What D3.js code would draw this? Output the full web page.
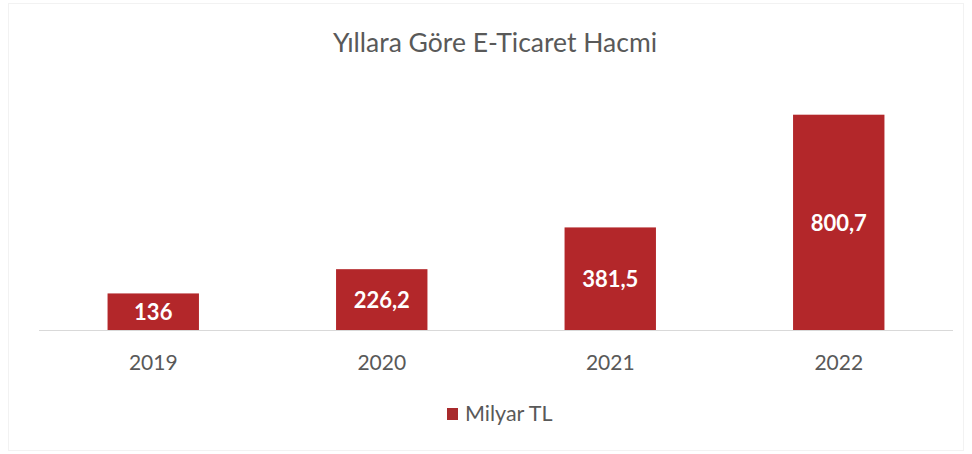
<!DOCTYPE html>
<html><head><meta charset="utf-8">
<script src="https://cdn.jsdelivr.net/npm/d3@7"></script>
<style>html,body{margin:0;padding:0;background:#fff;}</style>
</head><body>
<script>
const categories = ["2019", "2020", "2021", "2022"];
const values = [136, 226.2, 381.5, 800.7];
const valueLabels = ["136", "226,2", "381,5", "800,7"];
const seriesName = "Milyar TL";
const title = "Yıllara Göre E-Ticaret Hacmi";

const W = 972, H = 454;
const font = "Lato, 'Open Sans', sans-serif";
const svg = d3.select("body").append("svg").attr("width", W).attr("height", H);
svg.append("rect").attr("x",0).attr("y",0).attr("width",W).attr("height",H).attr("fill","#fff");
svg.append("rect").attr("x",8.5).attr("y",3.5).attr("width",955).attr("height",447)
  .attr("fill","none").attr("stroke","#f2f2f2");

const x = d3.scaleBand().domain(categories).range([39, 953]).paddingInner(0.6).paddingOuter(0.3);
const y = d3.scaleLinear().domain([0, 900]).range([330, 88]);

svg.append("text").attr("x", 495).attr("y", 52).attr("text-anchor","middle")
  .attr("font-family", font).attr("font-size", 26.5).attr("fill","#595959").text(title);

svg.selectAll("rect.bar").data(values).join("rect").attr("class","bar")
  .attr("x",(d,i)=>x(categories[i])).attr("width",x.bandwidth())
  .attr("y",d=>y(d)).attr("height",d=>y(0)-y(d)).attr("fill","#b3272a");

const axis = svg.append("g").attr("transform",`translate(0,${y(0)})`)
  .call(d3.axisBottom(x).tickSize(0).tickPadding(0));
axis.select(".domain").attr("stroke","#d9d9d9").attr("d","M39,0.5H953");
axis.selectAll(".tick text").attr("font-family",font).attr("font-size",21).attr("fill","#595959")
  .attr("dy",null).attr("y",40);

svg.selectAll("text.val").data(values).join("text").attr("class","val")
  .attr("x",(d,i)=>x(categories[i])+x.bandwidth()/2)
  .attr("y",d=>(y(d)+y(0))/2 + 1).attr("dy","0.35em").attr("text-anchor","middle")
  .attr("font-family",font).attr("font-weight","bold").attr("font-size",22).attr("fill","#fff")
  .text((d,i)=>valueLabels[i]);

const lg = svg.append("g");
lg.append("rect").attr("x",447).attr("y",408).attr("width",11).attr("height",12).attr("fill","#a82a2c");
lg.append("text").attr("x",465).attr("y",421).attr("font-family",font)
  .attr("font-size",21.5).attr("fill","#595959").text(seriesName);
</script>
</body></html>
